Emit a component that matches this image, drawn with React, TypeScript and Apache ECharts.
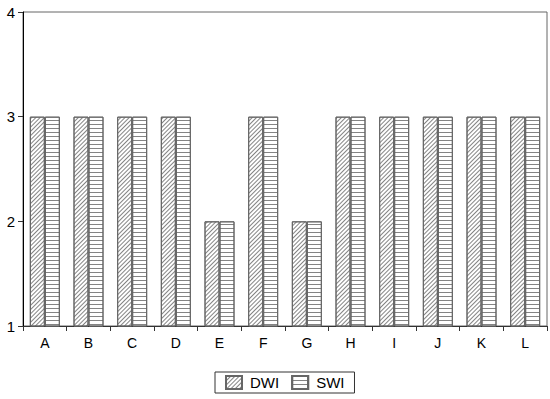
import React, { useEffect, useRef } from "react";
import * as echarts from "echarts";

const categories = ["A", "B", "C", "D", "E", "F", "G", "H", "I", "J", "K", "L"];
const dwi = [3, 3, 3, 3, 2, 3, 2, 3, 3, 3, 3, 3];
const swi = [3, 3, 3, 3, 2, 3, 2, 3, 3, 3, 3, 3];
const yTicks = [1, 2, 3, 4];

export default function App() {
  const ref = useRef<HTMLDivElement>(null);
  useEffect(() => {
    if (!ref.current) return;
    const chart = echarts.init(ref.current, null, { renderer: "svg" });
    const font = "Liberation Sans, Arial, sans-serif";
    chart.setOption({
      animation: false,
      backgroundColor: "#fff",
      textStyle: { fontFamily: font },
      grid: {
        left: 23,
        right: 3,
        top: 12,
        bottom: 73,
        show: true,
        borderColor: "#666",
        borderWidth: 1,
        backgroundColor: "transparent",
      },
      legend: {
        bottom: 6,
        left: 215,
        data: ["DWI", "SWI"],
        icon: "rect",
        itemWidth: 16,
        itemHeight: 13,
        itemGap: 12,
        borderColor: "#333",
        borderWidth: 1,
        padding: [3, 10, 3, 10],
        textStyle: { fontFamily: font, fontSize: 15, color: "#000", padding: [0, 0, 0, 3] },
      },
      xAxis: {
        type: "category",
        data: categories,
        axisLine: { lineStyle: { color: "#333", width: 1 } },
        axisTick: { show: true, length: 5, lineStyle: { color: "#333" } },
        axisLabel: { color: "#000", fontSize: 14, margin: 10, fontFamily: font },
      },
      yAxis: {
        type: "value",
        min: yTicks[0],
        max: yTicks[yTicks.length - 1],
        interval: 1,
        splitLine: { show: false },
        axisLine: { show: true, lineStyle: { color: "#000", width: 1 } },
        axisTick: { show: true, length: 5, lineStyle: { color: "#333" } },
        axisLabel: { color: "#000", fontSize: 15, margin: 8, fontFamily: font },
      },
      series: [
        {
          name: "DWI",
          type: "bar",
          data: dwi,
          barWidth: 15,
          barGap: "0%",
          itemStyle: {
            color: "#fff",
            borderColor: "#666",
            borderWidth: 1,
            decal: {
              symbol: "rect",
              symbolSize: 1,
              color: "rgba(90,90,90,0.75)",
              dashArrayX: [1, 0],
              dashArrayY: [1, 2],
              rotation: -Math.PI / 4,
            },
          },
        },
        {
          name: "SWI",
          type: "bar",
          data: swi,
          barWidth: 15,
          barGap: "0%",
          itemStyle: {
            color: "#fff",
            borderColor: "#666",
            borderWidth: 1,
            decal: {
              symbol: "rect",
              symbolSize: 1,
              color: "rgba(90,90,90,0.75)",
              dashArrayX: [1, 0],
              dashArrayY: [1, 3],
              rotation: 0,
            },
          },
        },
      ],
    });
    return () => chart.dispose();
  }, []);
  return <div ref={ref} style={{ width: 550, height: 399, position: "absolute", left: 0, top: 0 }} />;
}
